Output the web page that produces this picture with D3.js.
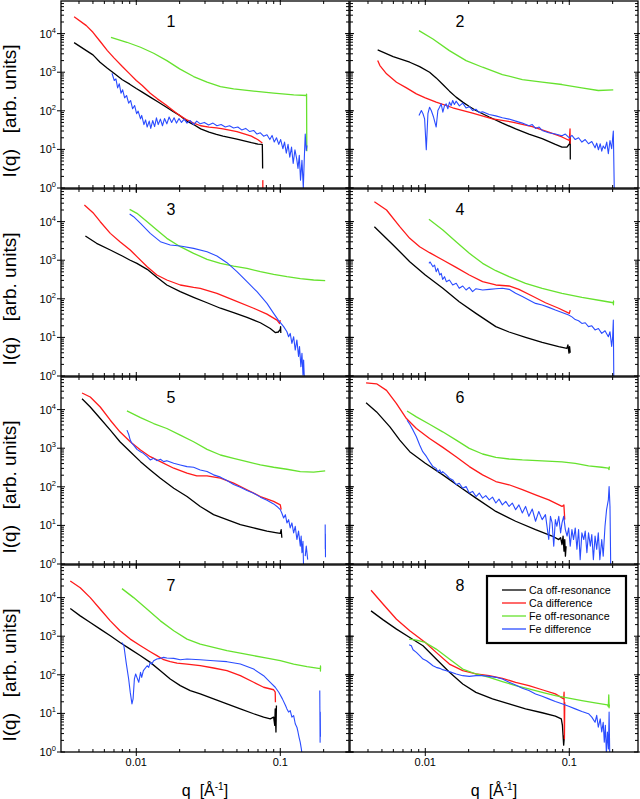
<!DOCTYPE html>
<html><head><meta charset="utf-8">
<script src="https://cdn.jsdelivr.net/npm/d3@7"></script>
<style>body{margin:0;background:#fff}svg{display:block}text{font-family:Arial,"Liberation Sans",sans-serif;fill:#000}</style>
</head><body><svg id="c" width="640" height="799"></svg>
<script>
// ---------- axes / labels ----------
const xDomain = [0.003, 0.3];
const yDomain = [1, 7e4];
const xTickValues = [0.01, 0.1];
const xTickLabels = ["0.01", "0.1"];
const yTickExps = [0, 1, 2, 3, 4];
const seriesNames = ["Ca off-resonance", "Ca difference", "Fe off-resonance", "Fe difference"];
const seriesColors = ["#000000", "#ff1a1a", "#66e22e", "#2a4cff"];
const panelLabels = ["1", "2", "3", "4", "5", "6", "7", "8"];

// ---------- data: [q, I] ; null I = gap ----------
const p1CaOff = [[0.0037,5850],[0.0045,3630],[0.005,2810],[0.0056,1815],[0.0063,1270],[0.007,942],[0.008,640],[0.009,490],[0.01,378],[0.011,304],[0.0125,226],[0.014,174],[0.016,127],[0.018,96],[0.02,76],[0.0225,54],[0.025,44],[0.028,34],[0.032,28],[0.036,24.4],[0.04,22],[0.05,18.5],[0.063,14.9],[0.07,13.7],[0.075,13.5],[0.0752,8],[0.0754,3.2]];
const p1CaDiff = [[0.0037,27500],[0.0045,16100],[0.005,10800],[0.0056,6340],[0.0063,3630],[0.007,2350],[0.008,1400],[0.009,906],[0.01,609],[0.011,452],[0.0125,286],[0.014,204],[0.016,143],[0.018,102],[0.02,76],[0.0225,58],[0.025,48],[0.028,41],[0.032,38],[0.036,36],[0.04,34],[0.05,29],[0.063,22],[0.07,17.8],[0.075,14.6],[0.0755,null],[0.0756,1.6],[0.0757,0.6]];
const p1FeOff = [[0.00667,8040],[0.0086,5970],[0.0107,4430],[0.0132,3100],[0.0163,2000],[0.02,1220],[0.025,773],[0.031,551],[0.0384,426],[0.0474,371],[0.0653,323],[0.09,286],[0.124,259],[0.152,249],[0.1522,270],[0.1528,9]];
const p1FeDiff = [[0.00678,942],[0.00703,609],[0.00722,673],[0.00742,393],[0.00762,500],[0.00783,286],[0.00804,349],[0.0083,217],[0.00856,249],[0.00885,158],[0.00913,185],[0.00943,113],[0.00974,137],[0.01005,84],[0.0103,98],[0.0107,62],[0.0109,76],[0.0113,44],[0.0116,58],[0.0119,38],[0.0123,54],[0.0126,35],[0.013,56],[0.0134,39],[0.0138,66],[0.0142,44],[0.0147,61],[0.0152,41],[0.0157,63],[0.0163,46],[0.0169,69],[0.0176,50],[0.0183,66],[0.019,48],[0.0198,63],[0.0206,50],[0.0215,61],[0.0225,48],[0.0237,56],[0.025,44],[0.0263,54],[0.0278,46],[0.0297,50],[0.0318,43],[0.0341,48],[0.0363,41],[0.0388,44],[0.0415,38],[0.0444,41],[0.0474,36],[0.0507,38],[0.0539,32],[0.0575,35],[0.0613,29],[0.0653,31],[0.0689,25],[0.0727,27],[0.0766,22],[0.0808,24],[0.0846,18],[0.0877,23],[0.0908,15.5],[0.0941,20],[0.0976,13.5],[0.1006,18],[0.1042,10.4],[0.107,15.5],[0.1101,8],[0.1132,13.5],[0.1164,6.3],[0.1197,11.5],[0.1229,4.3],[0.1264,9.8],[0.13,5.7],[0.1327,3.2],[0.1355,7],[0.1382,1.6],[0.1414,5.2],[0.1445,1.0],[0.1469,6.3],[0.149,25],[0.1515,9.4],[0.1532,12.7]];

const p2CaOff = [[0.00467,3780],[0.00598,2540],[0.0078,1815],[0.00914,1400],[0.01071,1000],[0.0119,713],[0.01324,480],[0.01472,323],[0.01636,226],[0.0182,168],[0.02022,129],[0.02247,102],[0.02778,69],[0.0343,48],[0.04243,34],[0.05243,25],[0.0648,19],[0.08006,13.5],[0.089,11.5],[0.0963,11.5],[0.1004,14],[0.1015,21],[0.1016,5.5]];
const p2CaDiff = [[0.00467,2000],[0.00484,1487],[0.00538,906],[0.00631,551],[0.0074,393],[0.00867,275],[0.01,217],[0.0119,168],[0.0155,120],[0.0213,87],[0.0293,62],[0.0402,51],[0.0553,39],[0.072,28],[0.089,21],[0.1,17],[0.1012,34],[0.1014,14]];
const p2FeOff = [[0.00904,11960],[0.0113,7280],[0.0147,3630],[0.0192,2000],[0.025,1346],[0.0343,870],[0.0472,646],[0.0648,551],[0.089,480],[0.122,393],[0.159,336],[0.202,349]];
const p2FeDiff = [[0.00904,76],[0.00939,102],[0.00964,84],[0.00989,62],[0.01016,9.8],[0.01043,84],[0.01071,124],[0.011,102],[0.01141,69],[0.0119,38],[0.01223,102],[0.01256,124],[0.01289,152],[0.01324,92],[0.0136,137],[0.01396,152],[0.01434,113],[0.01472,168],[0.01511,137],[0.0155,185],[0.01593,146],[0.01636,178],[0.01725,134],[0.0182,158],[0.01918,119],[0.02022,128],[0.0213,102],[0.02247,110],[0.0237,90],[0.025,94],[0.02778,80],[0.03088,74],[0.0343,66],[0.03816,61],[0.04243,54],[0.0472,48],[0.05243,41],[0.0553,44],[0.05829,35],[0.0617,38],[0.0648,31],[0.072,27],[0.08006,25],[0.089,22.5],[0.09385,25],[0.1,20],[0.1043,23],[0.11,18],[0.116,20],[0.1223,15.5],[0.129,18],[0.1359,14],[0.1433,16],[0.151,11],[0.155,14.5],[0.1593,9.8],[0.164,14],[0.168,9],[0.172,12.3],[0.177,10.4],[0.182,15.5],[0.1867,7.7],[0.1917,17],[0.1969,10.4],[0.2022,30],[0.2054,0.8]];

const p3CaOff = [[0.00443,4240],[0.0053,2740],[0.0066,1840],[0.008,1285],[0.009,1012],[0.0101,830],[0.0119,580],[0.0139,360],[0.0163,228],[0.0202,153],[0.025,109],[0.031,79],[0.0384,57],[0.0474,44],[0.0587,33],[0.0727,24],[0.0852,17],[0.0922,13.3],[0.0969,13.8],[0.1,16.2],[0.1005,19],[0.1008,13]];
const p3CaDiff = [[0.00436,26900],[0.00505,16400],[0.00562,9950],[0.0066,4960],[0.0077,3020],[0.00908,1840],[0.0101,1236],[0.0119,680],[0.0139,414],[0.0163,307],[0.0202,228],[0.025,198],[0.0278,187],[0.0363,139],[0.0474,93],[0.0653,57],[0.0808,40],[0.0948,28],[0.0987,23],[0.1,28]];
const p3FeOff = [[0.00899,20800],[0.0101,16400],[0.0119,9950],[0.0139,6060],[0.0163,3690],[0.0202,2240],[0.025,1510],[0.031,1052],[0.0384,830],[0.0474,707],[0.0587,615],[0.0727,505],[0.0899,430],[0.1112,374],[0.1377,332],[0.1704,307],[0.205,295]];
const p3FeDiff = [[0.00899,15700],[0.00958,13400],[0.0107,9020],[0.0125,4960],[0.0147,3020],[0.0172,2480],[0.0202,2330],[0.025,2030],[0.031,1663],[0.0363,1285],[0.0426,863],[0.05,505],[0.0587,278],[0.0689,153],[0.0808,76],[0.0899,42],[0.0969,28],[0.1055,19],[0.1112,14],[0.1142,10.4],[0.1172,12.7],[0.1204,7],[0.1238,10.4],[0.127,4.7],[0.1304,8.6],[0.1339,3.2],[0.136,5.8],[0.139,1.75],[0.1414,3.9],[0.1437,1.06],[0.1452,2.6],[0.147,0.8]];

const p4CaOff = [[0.00443,7400],[0.00598,2480],[0.0078,916],[0.01,414],[0.01324,187],[0.0172,84],[0.02247,42],[0.03088,19],[0.03816,13.8],[0.0497,10],[0.0648,7.4],[0.0844,5.8],[0.0963,5.2],[0.0978,6.4],[0.0995,3.9],[0.1005,5.8],[0.1015,4.0]];
const p4CaDiff = [[0.00443,32800],[0.00538,20000],[0.00665,7400],[0.0078,3690],[0.00914,2240],[0.01071,1567],[0.01324,1012],[0.01636,653],[0.02022,414],[0.025,278],[0.03088,228],[0.03816,215],[0.0447,176],[0.0553,118],[0.0683,79],[0.0844,57],[0.1,42],[0.1015,51]];
const p4FeOff = [[0.0106,11450],[0.01324,6060],[0.01636,3020],[0.02022,1510],[0.025,830],[0.03088,535],[0.03816,374],[0.0497,252],[0.0648,187],[0.089,139],[0.1223,109],[0.168,89],[0.2022,79],[0.2025,70],[0.2028,88],[0.203,79]];
const p4FeDiff = [[0.0106,830],[0.0108,900],[0.0113,680],[0.0116,750],[0.0119,505],[0.0122,615],[0.0126,414],[0.0129,457],[0.0132,319],[0.0136,374],[0.014,278],[0.0147,307],[0.0155,228],[0.0164,252],[0.0172,187],[0.0182,215],[0.0192,169],[0.0202,198],[0.0213,153],[0.0225,183],[0.025,169],[0.0278,176],[0.0309,183],[0.0343,187],[0.0382,176],[0.0424,139],[0.0472,114],[0.0524,93],[0.0583,76],[0.0648,69],[0.072,60],[0.08,51],[0.089,44],[0.099,38],[0.1043,34],[0.11,29],[0.116,27],[0.1223,23],[0.129,24],[0.1359,19],[0.1433,20],[0.151,15.6],[0.1593,17],[0.168,12.7],[0.177,14.9],[0.1867,10.4],[0.1917,14],[0.1969,5.8],[0.2,10.4],[0.2022,28],[0.204,0.5]];

const p5CaOff = [[0.0042,19200],[0.00479,11700],[0.00562,5870],[0.0066,2940],[0.0077,1470],[0.00908,813],[0.0107,449],[0.0125,274],[0.0147,167],[0.0182,92],[0.0225,56],[0.0278,31],[0.0344,19],[0.0426,14.1],[0.0528,10.5],[0.0653,8.6],[0.0808,7.1],[0.0948,6.4],[0.1,6.2],[0.1014,7.8],[0.1025,4.8]];
const p5CaDiff = [[0.0042,26900],[0.00479,21200],[0.00562,11700],[0.0066,5310],[0.0077,2660],[0.00908,1470],[0.0107,897],[0.0125,604],[0.0147,449],[0.0182,303],[0.0225,225],[0.0263,192],[0.031,192],[0.0384,167],[0.0474,124],[0.0587,84],[0.0727,56],[0.0899,42],[0.1,34],[0.1014,25.6]];
const p5FeOff = [[0.00861,9240],[0.0107,6220],[0.0132,4360],[0.0163,3240],[0.0202,2180],[0.025,1470],[0.031,933],[0.0384,667],[0.0474,547],[0.0587,449],[0.0727,369],[0.0899,321],[0.1112,285],[0.1377,248],[0.1704,239],[0.205,258]];
const p5FeDiff = [[0.00861,2940],[0.00885,2300],[0.00908,1620],[0.00933,1330],[0.00958,1208],[0.0101,933],[0.0107,813],[0.0112,736],[0.0119,604],[0.0125,496],[0.0132,547],[0.0139,476],[0.0147,516],[0.0155,449],[0.0163,476],[0.0182,407],[0.0202,369],[0.0225,334],[0.025,321],[0.0278,274],[0.031,248],[0.0344,204],[0.0384,178],[0.0426,145],[0.0474,115],[0.0528,98],[0.0587,80],[0.0653,68],[0.0727,54],[0.0808,45],[0.0899,36],[0.0948,31],[0.1,25.6],[0.1024,21],[0.1055,15.6],[0.1084,19],[0.1112,11.6],[0.1142,14.1],[0.1172,8.6],[0.1204,11.6],[0.1238,6.4],[0.127,9.5],[0.1304,4.3],[0.1339,7.1],[0.1377,2.9],[0.1396,5.3],[0.1414,1.96],[0.1437,3.9],[0.145,0.9],[0.147,null],[0.149,1.6],[0.1515,2.9],[0.155,1.3],[0.18,null],[0.205,10.5],[0.2053,2.5],[0.2056,6],[0.206,1.5]];

const p6CaOff = [[0.00388,15100],[0.00459,8710],[0.00568,3580],[0.00665,1620],[0.0078,813],[0.01,407],[0.01324,204],[0.0172,102],[0.0225,51],[0.0309,23],[0.0424,12.8],[0.0583,7.8],[0.076,5.3],[0.0845,4.3],[0.087,4.8],[0.089,3.2],[0.0905,5.3],[0.0919,2.16],[0.093,4.3],[0.094,1.6],[0.095,2.9]];
const p6CaDiff = [[0.00388,49600],[0.00459,46700],[0.00538,31500],[0.00631,14300],[0.0074,5870],[0.00867,3240],[0.01071,1790],[0.01324,1050],[0.01636,604],[0.02022,334],[0.025,204],[0.03088,137],[0.03816,113],[0.0472,84],[0.05829,62],[0.072,46],[0.089,31],[0.0917,34],[0.093,14.1]];
const p6FeOff = [[0.00747,9240],[0.00867,6470],[0.0107,4190],[0.0132,2660],[0.0164,1620],[0.0202,990],[0.025,708],[0.0309,581],[0.0382,526],[0.0472,496],[0.0648,468],[0.089,440],[0.11,406],[0.136,348],[0.168,321],[0.1867,303],[0.189,280],[0.1895,330],[0.19,300]];
const p6FeDiff = [[0.00747,5310],[0.0078,4190],[0.00822,2940],[0.00867,1980],[0.00914,1208],[0.0096,813],[0.0102,604],[0.0107,449],[0.0113,334],[0.0119,300],[0.0122,248],[0.0126,274],[0.0129,225],[0.0132,248],[0.014,204],[0.0147,167],[0.0155,151],[0.0164,113],[0.0172,124],[0.0182,92],[0.0192,102],[0.0202,69],[0.0213,76],[0.0225,56],[0.0237,69],[0.025,51],[0.0263,59],[0.0278,46],[0.0293,54],[0.0309,38],[0.0325,48],[0.0343,34],[0.0362,42],[0.0382,31],[0.0402,38],[0.0424,25.6],[0.0447,34],[0.0472,21],[0.0497,31],[0.0524,17.2],[0.0553,26.6],[0.0583,12.8],[0.0614,23],[0.0648,14.1],[0.0683,19],[0.072,4.3],[0.074,17.2],[0.076,11.6],[0.078,2.9],[0.08,14.1],[0.082,9.5],[0.0845,17.2],[0.087,6.4],[0.089,11.6],[0.0914,17.2],[0.0939,7.8],[0.0965,5.3],[0.099,8.6],[0.1015,2.9],[0.1043,7.8],[0.107,4.3],[0.11,8.6],[0.113,2.4],[0.116,7.8],[0.119,1.3],[0.1223,6.4],[0.126,4.3],[0.129,7.1],[0.1325,1.96],[0.136,6.4],[0.14,2.9],[0.1433,5.8],[0.147,1.3],[0.151,5.3],[0.155,2.4],[0.159,6.4],[0.163,1.3],[0.168,4.3],[0.172,1.6],[0.177,9.5],[0.1815,25.6],[0.1867,46],[0.189,102],[0.1917,31],[0.194,0.8]];

const p7CaOff = [[0.00348,5200],[0.00408,3365],[0.00479,2265],[0.00562,1524],[0.0066,1025],[0.0077,690],[0.00908,464],[0.0107,313],[0.0125,210],[0.0147,128],[0.0172,78],[0.0202,52.5],[0.0237,39],[0.0278,32],[0.0344,23.8],[0.0426,17.7],[0.0528,13.1],[0.0653,9.8],[0.0766,8],[0.0852,7.2],[0.0899,8],[0.0915,4.9],[0.0922,13.1],[0.0933,3.3],[0.094,16]];
const p7CaDiff = [[0.00348,26900],[0.00408,18100],[0.00479,10000],[0.00562,5000],[0.0066,2500],[0.0077,1380],[0.00908,841],[0.0107,566],[0.0125,396],[0.0139,313],[0.0155,246],[0.0172,219],[0.0192,202],[0.0225,190],[0.0278,172],[0.0344,150],[0.0426,128],[0.0528,95],[0.0653,64],[0.0766,47.6],[0.0899,41],[0.0922,35.4],[0.0925,19.5]];
const p7FeOff = [[0.00795,17100],[0.00958,10000],[0.0119,5000],[0.0147,2500],[0.0182,1380],[0.0225,841],[0.0278,625],[0.0344,513],[0.0426,421],[0.0528,366],[0.0653,313],[0.0808,272],[0.1,232],[0.1238,190],[0.1532,162],[0.1844,147],[0.1896,147],[0.19,125],[0.1902,170],[0.1905,145]];
const p7FeDiff = [[0.00795,690],[0.0082,566],[0.0085,210],[0.00885,78],[0.00908,35],[0.00933,17.7],[0.0095,23.8],[0.0097,78],[0.0099,105],[0.0101,86],[0.0104,64],[0.0107,116],[0.0109,86],[0.0112,128],[0.0119,172],[0.0122,156],[0.0125,210],[0.0128,190],[0.0132,232],[0.0139,256],[0.0147,267],[0.0155,283],[0.0163,272],[0.0182,267],[0.0202,246],[0.0225,256],[0.0278,246],[0.0344,232],[0.0426,219],[0.0528,190],[0.0653,141],[0.0766,95],[0.0852,64],[0.0922,47.6],[0.0976,35.4],[0.1034,23.8],[0.1087,16],[0.1112,13.1],[0.1142,10.8],[0.1172,11.8],[0.1204,8],[0.1238,8.8],[0.127,5.4],[0.1304,4.4],[0.1327,3.3],[0.135,2.4],[0.1375,1.8],[0.14,1.2],[0.142,0.8],[0.16,null],[0.188,39],[0.189,1.8],[0.1895,10.8],[0.19,2.5]];

const p8CaOff = [[0.0042,4530],[0.0051,2650],[0.00631,1524],[0.0078,929],[0.00964,566],[0.0119,256],[0.01472,116],[0.0182,58],[0.02247,35],[0.0293,23.8],[0.03816,17.7],[0.0497,13.1],[0.0648,10.4],[0.08,8.5],[0.088,7.2],[0.0896,4.9],[0.0914,1.5],[0.0925,2.7]];
const p8CaDiff = [[0.0042,15500],[0.0051,6730],[0.00631,2760],[0.0078,1380],[0.01,690],[0.0119,381],[0.0147,190],[0.0182,128],[0.0225,105],[0.0278,95],[0.0343,81],[0.0424,64],[0.0524,52.5],[0.0648,41],[0.08,32],[0.0914,23.8],[0.092,35.4],[0.0925,2.2],[0.093,19.5]];
const p8FeOff = [[0.00772,841],[0.00867,793],[0.01,690],[0.0119,464],[0.0147,256],[0.0182,141],[0.0225,105],[0.0278,86],[0.0343,66.7],[0.0424,52.5],[0.0524,43],[0.0648,35.3],[0.08,29],[0.099,24.8],[0.1223,21.5],[0.151,18.8],[0.184,16.7],[0.1867,15],[0.188,30],[0.189,14],[0.19,17]];
const p8FeDiff = [[0.00772,601],[0.008,566],[0.00822,446],[0.00867,381],[0.00914,313],[0.00964,256],[0.0102,232],[0.0107,202],[0.0113,172],[0.0119,156],[0.0126,147],[0.0132,136],[0.014,128],[0.0147,121],[0.0164,105],[0.0182,95],[0.0202,91],[0.0225,95],[0.025,95],[0.0278,91],[0.0309,86],[0.0343,78],[0.0382,64],[0.0424,54.7],[0.0472,44.9],[0.0524,39],[0.0583,32],[0.0648,27.9],[0.072,23.8],[0.08,20.3],[0.089,17.7],[0.099,15.4],[0.11,13.1],[0.1223,11.2],[0.136,9.8],[0.1433,8],[0.151,5.9],[0.155,8.9],[0.159,4.4],[0.164,7.2],[0.168,3.3],[0.172,5.9],[0.175,1.8],[0.178,4.9],[0.181,0.9],[0.184,3.3],[0.187,1.2],[0.189,10.8],[0.191,0.8]];

const panels = [
  [p1CaOff,p1CaDiff,p1FeOff,p1FeDiff],[p2CaOff,p2CaDiff,p2FeOff,p2FeDiff],
  [p3CaOff,p3CaDiff,p3FeOff,p3FeDiff],[p4CaOff,p4CaDiff,p4FeOff,p4FeDiff],
  [p5CaOff,p5CaDiff,p5FeOff,p5FeDiff],[p6CaOff,p6CaDiff,p6FeOff,p6FeDiff],
  [p7CaOff,p7CaDiff,p7FeOff,p7FeDiff],[p8CaOff,p8CaDiff,p8FeOff,p8FeDiff]
];

// ---------- layout ----------
const colX = [61, 350], colW = 288;
const rowTop = r => 1 + 188 * r, rowH = 187;
const svg = d3.select("#c");

const yMajor = yTickExps.map(e => Math.pow(10, e));
const yMinor = [];
yTickExps.forEach(e => { for (let k = 2; k <= 9; k++) { const v = k * Math.pow(10, e); if (v < yDomain[1]) yMinor.push(v); } });
const xMinor = [];
[-3, -2, -1].forEach(e => { for (let k = 1; k <= 9; k++) { const v = k * Math.pow(10, e); if (v > xDomain[0] * 1.001 && v < xDomain[1] * 0.999 && !xTickValues.some(t => Math.abs(t - v) < 1e-9)) xMinor.push(v); } });

panels.forEach((series, i) => {
  const col = i % 2, row = Math.floor(i / 2);
  const x0 = colX[col], top = rowTop(row), bottom = top + rowH;
  const x = d3.scaleLog().domain(xDomain).range([x0, x0 + colW]);
  const y = d3.scaleLog().domain(yDomain).range([bottom, top]);
  const g = svg.append("g");
  const cid = "clip" + i;
  svg.append("clipPath").attr("id", cid).append("rect")
    .attr("x", x0).attr("y", top).attr("width", colW).attr("height", rowH);
  const line = d3.line().defined(d => d[1] != null).x(d => x(d[0])).y(d => y(d[1]));
  const lg = g.append("g").attr("clip-path", `url(#${cid})`);
  series.forEach((s, k) => {
    lg.append("path").attr("d", line(s)).attr("fill", "none")
      .attr("stroke", seriesColors[k]).attr("stroke-width", k === 3 ? 1.1 : 1.3)
      .attr("stroke-linejoin", "round");
  });
  // frame
  g.append("rect").attr("x", x0).attr("y", top).attr("width", colW).attr("height", rowH)
    .attr("fill", "none").attr("stroke", "#000").attr("stroke-width", 1.3);
  const tk = g.append("g").attr("stroke", "#000").attr("stroke-width", 1);
  // y ticks (left & right)
  yMajor.forEach(v => {
    const yy = y(v);
    tk.append("line").attr("x1", x0 - 4).attr("x2", x0 + 4).attr("y1", yy).attr("y2", yy);
    tk.append("line").attr("x1", x0 + colW - 4).attr("x2", x0 + colW + 4).attr("y1", yy).attr("y2", yy);
  });
  yMinor.forEach(v => {
    const yy = y(v);
    tk.append("line").attr("x1", x0).attr("x2", x0 + 3).attr("y1", yy).attr("y2", yy);
    tk.append("line").attr("x1", x0 + colW - 3).attr("x2", x0 + colW).attr("y1", yy).attr("y2", yy);
  });
  // x ticks (bottom & top)
  xTickValues.forEach(v => {
    const xx = x(v);
    tk.append("line").attr("x1", xx).attr("x2", xx).attr("y1", bottom - 4).attr("y2", bottom + 4);
    tk.append("line").attr("x1", xx).attr("x2", xx).attr("y1", top - 1).attr("y2", top + 4);
  });
  xMinor.forEach(v => {
    const xx = x(v);
    tk.append("line").attr("x1", xx).attr("x2", xx).attr("y1", bottom - 3).attr("y2", bottom);
    tk.append("line").attr("x1", xx).attr("x2", xx).attr("y1", top).attr("y2", top + 3);
  });
  // y tick labels (left column)
  if (col === 0) {
    yTickExps.forEach(e => {
      const t = g.append("text").attr("x", 56).attr("y", y(Math.pow(10, e)) + 4)
        .attr("text-anchor", "end").attr("font-size", 11);
      t.append("tspan").text("10");
      t.append("tspan").attr("dy", -5).attr("font-size", 7.5).text(String(e));
    });
    g.append("text").attr("transform", `translate(16,${top + 110}) rotate(-90)`)
      .attr("text-anchor", "middle").attr("font-size", 19).style("white-space", "pre")
      .text("I(q)   [arb. units]");
  }
  // x tick labels (bottom row)
  if (row === 3) {
    xTickValues.forEach((v, j) => {
      g.append("text").attr("x", x(v)).attr("y", 766).attr("text-anchor", "middle")
        .attr("font-size", 11).text(xTickLabels[j]);
    });
    const t = g.append("text").attr("x", x0 + colW / 2).attr("y", 796).attr("text-anchor", "middle")
      .attr("font-size", 16).style("white-space", "pre");
    t.append("tspan").text("q  [Å");
    t.append("tspan").attr("dy", -6).attr("font-size", 10).text("-1");
    t.append("tspan").attr("dy", 6).text("]");
  }
  // panel number
  g.append("text").attr("x", x0 + 110).attr("y", top + 26).attr("text-anchor", "middle")
    .attr("font-size", 16).text(panelLabels[i]);
});

// ---------- legend (panel 8) ----------
const lgd = svg.append("g");
lgd.append("rect").attr("x", 487).attr("y", 576).attr("width", 139).attr("height", 67)
  .attr("fill", "#fff").attr("stroke", "#000").attr("stroke-width", 2.2);
seriesNames.forEach((n, k) => {
  const yy = 590 + k * 13;
  lgd.append("line").attr("x1", 502).attr("x2", 526).attr("y1", yy).attr("y2", yy)
    .attr("stroke", seriesColors[k]).attr("stroke-width", 1.3);
  lgd.append("text").attr("x", 529).attr("y", yy + 4).attr("font-size", 10.7).text(n);
});
</script></body></html>
